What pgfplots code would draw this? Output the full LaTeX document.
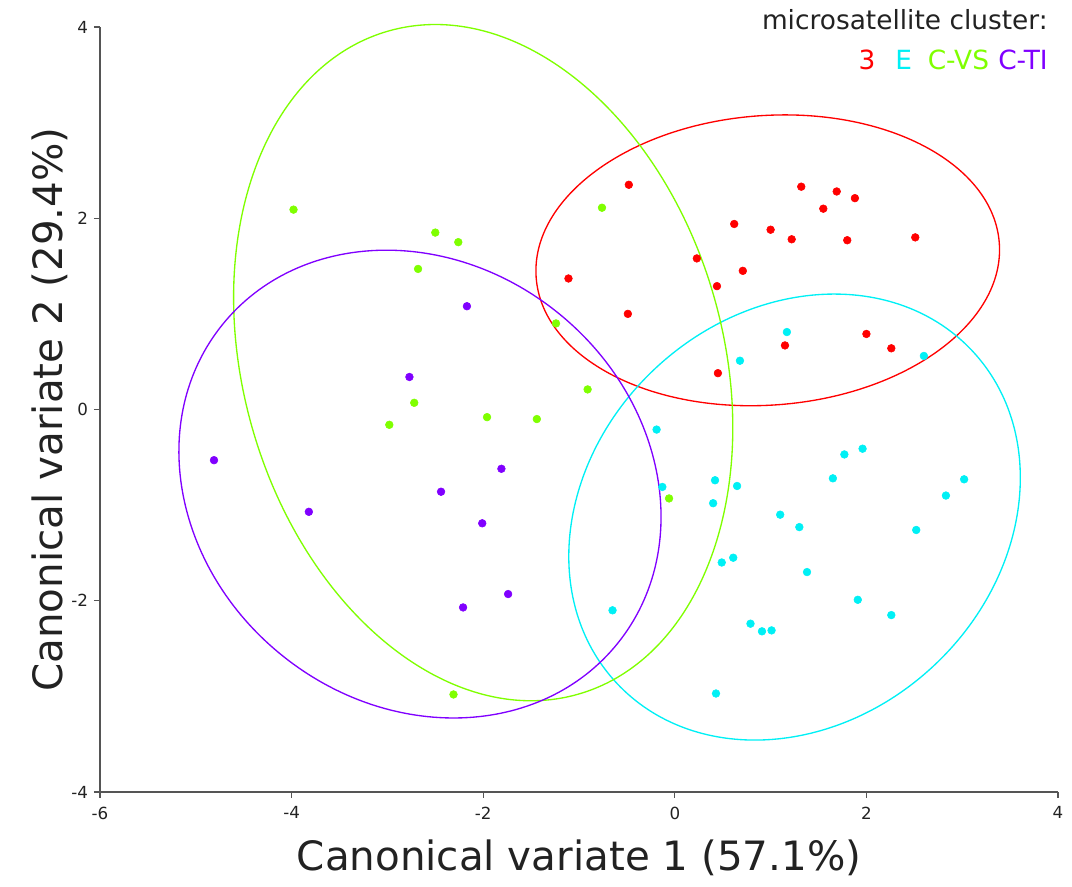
\documentclass[border=0pt]{standalone}
\usepackage{pgfplots}
\pgfplotsset{compat=1.18}
\usepackage{fontspec}
\setmainfont{DejaVu Sans}
\definecolor{cRed}{HTML}{FF0000}
\definecolor{cCyan}{HTML}{00F0F5}
\definecolor{cGreen}{HTML}{7FFF00}
\definecolor{cPurple}{HTML}{8000FF}
\definecolor{axgray}{HTML}{555555}
\definecolor{txtgray}{HTML}{222222}
\begin{document}
\begin{tikzpicture}
\useasboundingbox (-75pt,-71.25pt) rectangle (729pt,594pt);
\begin{axis}[
  at={(0pt,0pt)}, anchor=south west,
  scale only axis, width=718.5pt, height=573.75pt,
  xmin=-6, xmax=4, ymin=-4, ymax=4,
  axis lines*=left,
  axis line style={draw=axgray, line width=1.2pt},
  xtick={-6,-4,-2,0,2,4}, ytick={-4,-2,0,2,4},
  tick align=outside, major tick length=4.5pt,
  tick style={draw=axgray, line width=0.9pt},
  ticklabel style={font=\fontsize{12.5}{14}\selectfont, text=txtgray},
  xticklabel style={yshift=-3pt},
  yticklabel style={xshift=-1pt},
  /pgf/number format/assume math mode=true,
  xlabel={Canonical variate 1 (57.1\%)},
  ylabel={Canonical variate 2 (29.4\%)},
  label style={font=\fontsize{30.3}{34}\selectfont, text=txtgray},
  xlabel style={at={(axis description cs:0.5,-0.0863)}, anchor=center},
  ylabel style={at={(axis description cs:-0.0522,0.5)}, anchor=center},
  clip=false,
]
% confidence ellipses
\draw[cRed, line width=1pt, rotate around={4.3:(axis cs:0.97,1.56)}] (axis cs:0.97,1.56) ellipse [x radius=2.424, y radius=1.514];
\draw[cCyan, line width=1pt, rotate around={43:(axis cs:1.25,-1.125)}] (axis cs:1.25,-1.125) ellipse [x radius=2.54, y radius=2.13];
\draw[cGreen, line width=1pt, rotate around={106:(axis cs:-2.0,0.49)}] (axis cs:-2.0,0.49) ellipse [x radius=3.60, y radius=2.51];
\draw[cPurple, line width=1pt, rotate around={-38.9:(axis cs:-2.66,-0.78)}] (axis cs:-2.66,-0.78) ellipse [x radius=2.65, y radius=2.30];

\addplot[only marks, mark=*, mark size=2.9pt, color=cRed] coordinates {
(-0.48,2.35) (-1.11,1.37) (-0.49,1.00) (0.23,1.58) (0.44,1.29) (0.71,1.45)
(0.62,1.94) (1.00,1.88) (1.22,1.78) (1.32,2.33) (1.69,2.28) (1.55,2.10)
(1.88,2.21) (1.80,1.77) (2.51,1.80) (1.15,0.67) (2.00,0.79) (2.26,0.64) (0.45,0.38)
};
\addplot[only marks, mark=*, mark size=2.9pt, color=cCyan] coordinates {
(1.17,0.81) (0.68,0.51) (2.60,0.56) (-0.19,-0.21) (1.96,-0.41) (1.77,-0.47)
(1.65,-0.72) (3.02,-0.73) (2.83,-0.90) (0.42,-0.74) (0.65,-0.80) (-0.13,-0.81)
(0.40,-0.98) (1.10,-1.10) (1.30,-1.23) (2.52,-1.26) (0.49,-1.60) (0.61,-1.55)
(1.38,-1.70) (1.91,-1.99) (2.26,-2.15) (-0.65,-2.10) (0.79,-2.24) (0.91,-2.32)
(1.01,-2.31) (0.43,-2.97)
};
\addplot[only marks, mark=*, mark size=2.9pt, color=cGreen] coordinates {
(-3.98,2.09) (-2.50,1.85) (-2.26,1.75) (-2.68,1.47) (-2.72,0.07) (-2.98,-0.16)
(-1.96,-0.08) (-1.44,-0.10) (-0.76,2.11) (-1.24,0.90) (-0.91,0.21) (-0.06,-0.93)
(-2.31,-2.98)
};
\addplot[only marks, mark=*, mark size=2.9pt, color=cPurple] coordinates {
(-2.17,1.08) (-2.77,0.34) (-4.81,-0.53) (-3.82,-1.07) (-1.81,-0.62)
(-2.44,-0.86) (-2.01,-1.19) (-1.74,-1.93) (-2.21,-2.07)
};
\end{axis}
\node[anchor=east, inner sep=0pt, text=txtgray, font=\fontsize{19.8}{22}\selectfont] at (711pt,579pt) {microsatellite cluster:};
\node[anchor=east, inner sep=0pt, font=\fontsize{19.8}{22}\selectfont] at (711pt,549pt) {\textcolor{cRed}{3}\hspace{0.75em}\textcolor{cCyan}{E}\hspace{0.6em}\textcolor{cGreen}{C-VS}\hspace{0.35em}\textcolor{cPurple}{C-TI}};
\end{tikzpicture}
\end{document}
